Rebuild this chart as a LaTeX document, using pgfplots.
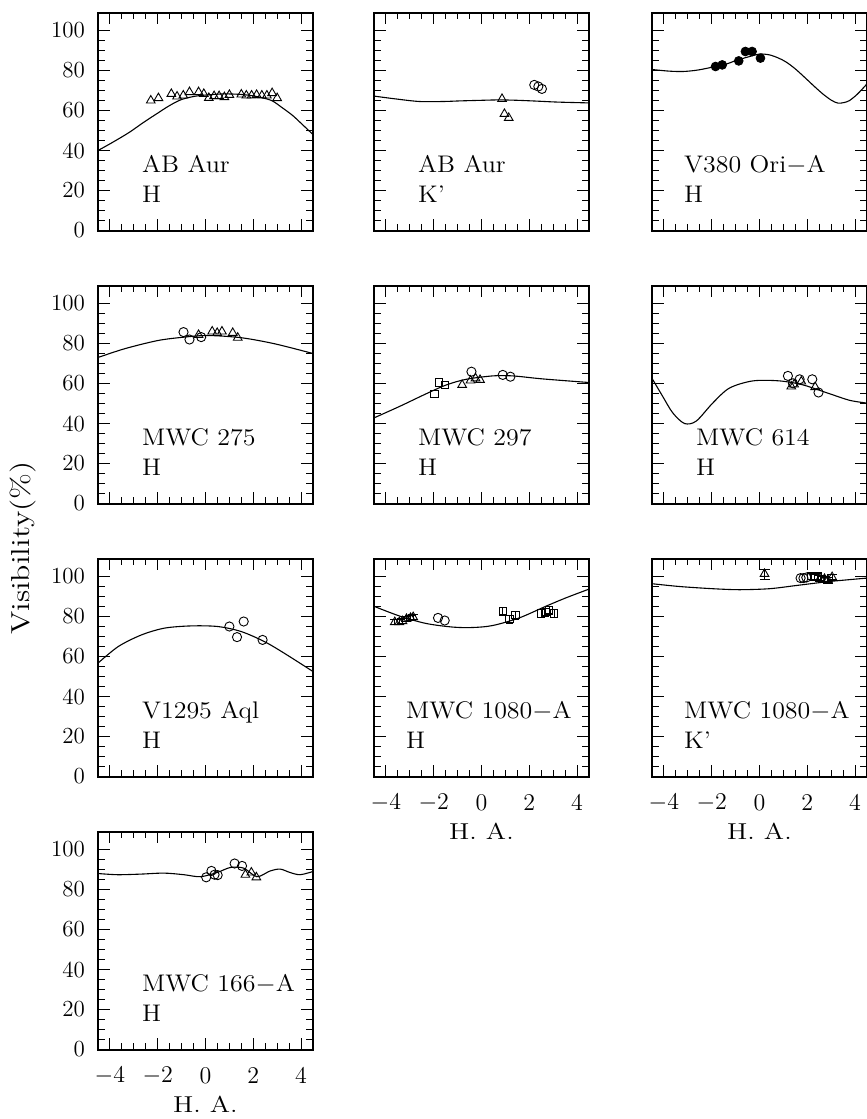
\documentclass[border=0pt]{standalone}
\usepackage{pgfplots}
\usepackage{graphicx}
\pgfplotsset{compat=1.18}

\newcommand{\plab}[1]{\scalebox{1.08}[1]{#1}}

\pgfplotsset{
  panel/.style={
    anchor=north west, scale only axis, width=107.5pt, height=109pt,
    xmin=-4.5,xmax=4.5,ymin=0,ymax=109,
    xtick={-4,-2,0,2,4}, ytick={0,20,40,60,80,100},
    minor x tick num=3, minor y tick num=3,
    tick align=inside, xtick pos=both, ytick pos=both,
    major tick length=5.8pt, minor tick length=3.3pt,
    axis line style={line width=1pt},
    every tick/.style={black,line width=0.5pt},
    xticklabels={}, yticklabels={},
    ticklabel style={font=\fontsize{11.5}{11.5}\selectfont},
    xticklabel style={anchor=center, yshift=-13pt},
    yticklabel style={anchor=east, xshift=-3pt},
  },
  ylab/.style={yticklabels={0,20,40,60,80,100}},
  xlab/.style={xticklabels={$-4$,$-2$,$0$,$2$,$4$},
    xlabel={\scalebox{1.2}[1]{H.\ A.}},
    xlabel style={at={(axis description cs:0.5,0)},anchor=center,yshift=-27.5pt,font=\fontsize{11.5}{11.5}\selectfont}},
  model/.style={black, line width=0.55pt, smooth, no markers},
  tri/.style={only marks, mark=triangle, mark size=2.5pt, mark options={black,line width=0.45pt}},
  circ/.style={only marks, mark=o, mark size=2.3pt, mark options={black,line width=0.45pt}},
  sq/.style={only marks, mark=square, mark size=1.8pt, mark options={black,line width=0.45pt}},
  dot/.style={only marks, mark=*, mark size=2.2pt, mark options={black,fill=black}},
  eb/.style={error bars/.cd, y dir=both, y explicit, error bar style={black,line width=0.45pt}},
}
\newcommand{\names}[2]{%
  \node[anchor=base west, font=\fontsize{12}{12}\selectfont] at (axis cs:#1,29) {\plab{#2}};}
\newcommand{\band}[2]{%
  \node[anchor=base west, font=\fontsize{12}{12}\selectfont] at (axis cs:#1,14) {\plab{#2}};}

\begin{document}
\begin{tikzpicture}

% ---------- Row 1 ----------
\begin{axis}[panel, ylab, at={(49pt,-6.25pt)}]
\addplot[model] coordinates {(-4.5,40) (-3.9,44) (-3.2,49) (-2.6,54) (-2.05,58.3) (-1.5,62.5) (-1.0,65.5) (-0.4,67.2) (0.3,68) (0.8,68.3) (1.4,68.1) (1.9,67.5) (2.4,66.3) (2.8,64.8) (3.2,61.5) (3.65,57.5) (4.1,52.5) (4.5,48)};
\addplot[tri] coordinates {(-2.29,65) (-1.97,66.2) (-1.43,68.3) (-1.19,67) (-0.93,67.5) (-0.67,69.2) (-0.29,69.2) (-0.07,68.3) (0.14,66.3) (0.36,67.2) (0.57,67.2) (0.79,66.7) (1.0,67.8) (1.5,68) (1.71,67.5) (1.93,67.5) (2.14,67.8) (2.36,67.5) (2.57,67.5) (2.79,68.7) (3.0,66.2)};
\names{-2.95}{AB Aur}
\band{-2.95}{H}
\end{axis}

\begin{axis}[panel, at={(187pt,-6.25pt)}]
\addplot[model] coordinates {(-4.5,67.2) (-3.6,65.8) (-2.6,64.5) (-1.6,64.5) (-0.9,64.8) (0,65.1) (0.75,65.3) (1.5,65.1) (2.3,64.7) (3.2,64.2) (4.5,63.8)};
\addplot[tri] coordinates {(0.86,65.8) (0.96,58.3) (1.14,56.3)};
\addplot[circ] coordinates {(2.21,72.8) (2.38,72) (2.53,70.8)};
\names{-2.95}{AB Aur}
\band{-2.95}{K'}
\end{axis}

\begin{axis}[panel, at={(326pt,-6.25pt)}]
\addplot[model] coordinates {(-4.5,80.5) (-3.8,79.7) (-3.2,79.5) (-2.6,80.2) (-1.96,81.7) (-1.4,83.2) (-0.98,85) (-0.5,86.7) (0,88.2) (0.42,87.8) (0.8,86.2) (1.12,84.2) (1.5,80.8) (1.96,75.8) (2.3,72) (2.65,68.3) (3.0,65.2) (3.28,63.7) (3.55,64) (3.77,65) (4.1,68.2) (4.5,73.3)};
\addplot[dot] coordinates {(-1.84,82) (-1.56,82.8) (-0.87,84.8) (-0.59,89.5) (-0.31,89.5) (0.04,86.2)};
\names{-3.45}{V380 Ori$-$A}
\band{-3.45}{H}
\end{axis}

% ---------- Row 2 ----------
\begin{axis}[panel, ylab, at={(49pt,-142.75pt)}]
\addplot[model] coordinates {(-4.5,73) (-3.38,77.4) (-1.99,81.5) (-0.88,83.2) (0.1,84) (1.49,82.9) (2.88,79.9) (4.5,75)};
\addplot[circ] coordinates {(-0.92,85.7) (-0.67,82) (-0.18,83.2)};
\addplot[tri] coordinates {(-0.29,84.3) (0.28,86) (0.49,85.3) (0.69,86) (1.14,85.3) (1.35,82.9)};
\names{-2.95}{MWC 275}
\band{-2.95}{H}
\end{axis}

\begin{axis}[panel, at={(187pt,-142.75pt)}]
\addplot[model] coordinates {(-4.5,42.8) (-3.42,48.6) (-2.31,54.9) (-1.47,59.3) (-0.64,62.1) (0.47,63.8) (1.31,63.8) (2.56,62.3) (4.5,60.5)};
\addplot[sq] coordinates {(-1.97,54.7) (-1.78,60.5) (-1.54,59.3)};
\addplot[tri] coordinates {(-0.81,59.3) (-0.46,61.5) (-0.25,62.6) (-0.06,61.8)};
\addplot[circ] coordinates {(-0.42,65.9) (0.89,64.3) (1.21,63.4)};
\names{-2.95}{MWC 297}
\band{-2.95}{H}
\end{axis}

\begin{axis}[panel, at={(326pt,-142.75pt)}]
\addplot[model] coordinates {(-4.5,62.6) (-4.05,53.5) (-3.63,45.3) (-3.14,40) (-2.65,41.2) (-1.96,50.2) (-1.26,57.7) (-0.28,61.3) (0.84,61.3) (1.82,59.3) (2.93,54.9) (3.77,51.6) (4.5,50.2)};
\addplot[circ] coordinates {(1.19,63.8) (1.4,60.1) (1.68,62.1) (2.21,62.1) (2.47,55.5)};
\addplot[tri] coordinates {(1.33,58.5) (1.45,59.5) (1.75,61) (2.33,58.2)};
\names{-2.95}{MWC 614}
\band{-2.95}{H}
\end{axis}

% ---------- Row 3 ----------
\begin{axis}[panel, ylab, at={(49pt,-279.25pt)}]
\addplot[model] coordinates {(-4.5,56.7) (-3.65,65) (-2.68,70.8) (-1.71,74.2) (-0.6,75.3) (0.51,75) (1.49,72.5) (2.46,67.5) (3.29,61.7) (4.5,52.5)};
\addplot[circ] coordinates {(1.0,75) (1.32,69.7) (1.6,77.5) (2.39,68.3)};
\names{-2.95}{V1295 Aql}
\band{-2.95}{H}
\end{axis}

\begin{axis}[panel, xlab, at={(187pt,-279.25pt)}]
\addplot[model] coordinates {(-4.5,85.1) (-3.42,80.2) (-2.31,76.5) (-1.19,74.7) (-0.36,74.5) (0.47,75.5) (1.58,79.3) (2.69,85.1) (3.53,89.3) (4.5,93.7)};
\addplot[tri, eb] coordinates {(-3.63,77.2) +- (0,1.2) (-3.44,77.2) +- (0,1.2) (-3.31,77.7) +- (0,1.2) (-3.14,78.8) +- (0,1.2) (-2.97,79.3) +- (0,1.2) (-2.86,79.7) +- (0,1.2)};
\addplot[circ] coordinates {(-1.82,79.3) (-1.54,78)};
\addplot[sq, eb] coordinates {(0.89,82.6) +- (0,2) (1.17,78.8) +- (0,2) (1.42,80.7) +- (0,2) (2.49,81.5) +- (0,2) (2.69,82.1) +- (0,2) (2.83,83.1) +- (0,2) (3.04,81.5) +- (0,2)};
\names{-3.45}{MWC 1080$-$A}
\band{-3.45}{H}
\end{axis}

\begin{axis}[panel, xlab, at={(326pt,-279.25pt)}]
\addplot[model] coordinates {(-4.5,96.4) (-3.35,95) (-1.96,93.9) (-0.84,93.4) (0.42,93.9) (1.54,95.5) (2.93,97.5) (4.5,99.2)};
\addplot[tri, eb] coordinates {(0.21,101.3) +- (0,2.5) (2.54,99.2) +- (0,1.5) (2.72,98.8) +- (0,1.5) (2.86,98.3) +- (0,1.5) (3.04,99.7) +- (0,1.5)};
\addplot[circ] coordinates {(1.72,99.2) (1.84,99.2) (1.96,99.5)};
\addplot[sq, eb] coordinates {(2.16,100.2) +- (0,1.5) (2.3,99.7) +- (0,1.5) (2.44,100.2) +- (0,1.5)};
\names{-3.45}{MWC 1080$-$A}
\band{-3.45}{K'}
\end{axis}

% ---------- Row 4 ----------
\begin{axis}[panel, ylab, xlab, at={(49pt,-415.75pt)}]
\addplot[model] coordinates {(-4.5,88) (-3.68,87.4) (-2.71,87.7) (-1.74,88.2) (-0.9,87.4) (-0.21,86.4) (0.49,88.5) (1.04,91) (1.6,90.7) (2.15,86.4) (2.71,89.3) (3.13,90.2) (3.54,88.5) (3.96,87.4) (4.5,89)};
\addplot[circ] coordinates {(0.03,86.1) (0.25,89.3) (0.38,87.4) (0.51,87.2) (1.22,93) (1.53,91.8)};
\addplot[tri] coordinates {(1.67,87.4) (1.92,88.5) (2.13,86.1)};
\names{-2.95}{MWC 166$-$A}
\band{-2.95}{H}
\end{axis}

\node[rotate=90, font=\fontsize{13}{13}\selectfont] at (11.5pt,-274pt) {\scalebox{1.22}[1]{Visibility(\%)}};

\pgfresetboundingbox
\useasboundingbox (0,0) rectangle (433.5pt,-559.5pt);
\end{tikzpicture}
\end{document}
